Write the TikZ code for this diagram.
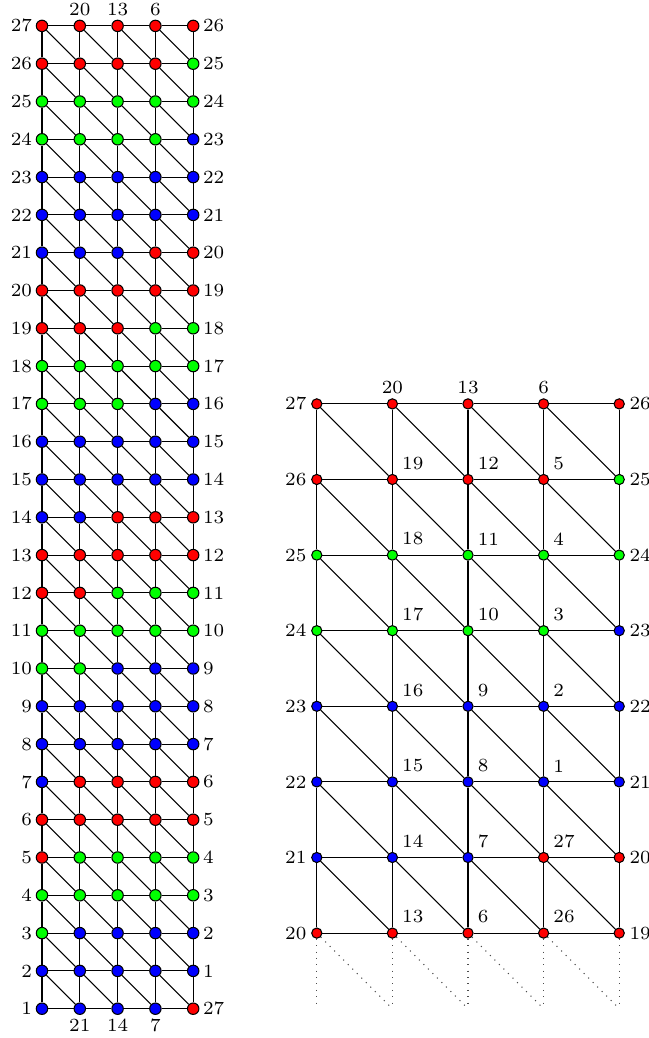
\documentclass[tikz,border=0pt]{standalone}
\begin{document}
\begin{tikzpicture}[x=0.5cm,y=0.5cm,font=\scriptsize,
  vtx/.style={circle,draw=black,inner sep=0pt,minimum size=4.3pt},
  rvtx/.style={circle,draw=black,inner sep=0pt,minimum size=3.85pt},
  lbl/.style={inner sep=1.2pt},
  rlbl/.style={inner sep=1.6pt},
  ilbl/.style={inner sep=2pt,anchor=south west},
  edge/.style={black,line width=0.4pt},
  dotedge/.style={black!70,line width=0.4pt,dotted}]
\useasboundingbox (-1.111,-0.775) rectangle (16.058,26.685);
% ---------- left grid ----------
\foreach \i in {1,...,27}{
  \foreach \j in {0,...,4}{
    \pgfmathtruncatemacro\lab{mod(\i-7*\j+53,27)+1}
    \pgfmathtruncatemacro\m{mod(\lab,7)}
    \edef\col{\ifcase\m blue\or blue\or blue\or green\or green\or red\or red\fi}
    \node[vtx,fill=\col] (L\i-\j) at (\j,\i-1) {};
  }
}
\foreach \i in {1,...,27}{
  \foreach \j in {0,...,3}{
    \pgfmathtruncatemacro\jn{\j+1}
    \draw[edge] (L\i-\j) -- (L\i-\jn);
  }
}
\foreach \i in {1,...,26}{
  \pgfmathtruncatemacro\in{\i+1}
  \foreach \j in {0,...,4}{
    \draw[edge] (L\i-\j) -- (L\in-\j);
  }
  \foreach \j in {0,...,3}{
    \pgfmathtruncatemacro\jn{\j+1}
    \draw[edge] (L\in-\j) -- (L\i-\jn);
  }
}
\foreach \i in {1,...,27}{
  \pgfmathtruncatemacro\r{mod(\i+25,27)+1}
  \node[lbl,anchor=east] (LA\i) at (L\i-0.west) {\i};
  \node[lbl,anchor=west] (LB\i) at (L\i-4.east) {\r};
}
\foreach \j in {1,2,3}{
  \pgfmathtruncatemacro\t{27-7*\j}
  \pgfmathtruncatemacro\b{mod(54-7*\j,27)+1}
  \node[lbl,anchor=south] (LT\j) at (L27-\j.north) {\t};
  \node[lbl,anchor=north] (LD\j) at (L1-\j.south) {\b};
}
% ---------- right grid ----------
\foreach \k in {0,...,7}{
  \foreach \j in {0,...,4}{
    \pgfmathtruncatemacro\lab{mod(19+\k-7*\j+27,27)+1}
    \pgfmathtruncatemacro\m{mod(\lab,7)}
    \edef\col{\ifcase\m blue\or blue\or blue\or green\or green\or red\or red\fi}
    \node[rvtx,fill=\col] (R\k-\j) at (7.27+2*\j,2+2*\k) {};
  }
}
\foreach \k in {0,...,7}{
  \foreach \j in {0,...,3}{
    \pgfmathtruncatemacro\jn{\j+1}
    \draw[edge] (R\k-\j) -- (R\k-\jn);
  }
}
\foreach \k in {0,...,6}{
  \pgfmathtruncatemacro\kn{\k+1}
  \foreach \j in {0,...,4}{
    \draw[edge] (R\k-\j) -- (R\kn-\j);
  }
  \foreach \j in {0,...,3}{
    \pgfmathtruncatemacro\jn{\j+1}
    \draw[edge] (R\kn-\j) -- (R\k-\jn);
  }
}
\foreach \k in {0,...,7}{
  \pgfmathtruncatemacro\a{20+\k}
  \pgfmathtruncatemacro\b{19+\k}
  \node[rlbl,anchor=east] (RA\k) at (R\k-0.west) {\a};
  \node[rlbl,anchor=west] (RB\k) at (R\k-4.east) {\b};
}
\foreach \j in {1,2,3}{
  \pgfmathtruncatemacro\t{27-7*\j}
  \node[rlbl,anchor=south] (RT\j) at (R7-\j.north) {\t};
  \foreach \k in {0,...,6}{
    \pgfmathtruncatemacro\v{mod(19+\k-7*\j+27,27)+1}
    \node[ilbl] (RI\k-\j) at (R\k-\j.north east) {\v};
  }
}
% dotted continuation
\foreach \j in {0,...,4}{
  \coordinate (D\j) at (7.27+2*\j,0);
  \draw[dotedge] (R0-\j) -- (D\j);
}
\foreach \j in {0,...,3}{
  \pgfmathtruncatemacro\jn{\j+1}
  \draw[dotedge] (R0-\j) -- (D\jn);
}
\end{tikzpicture}
\end{document}
